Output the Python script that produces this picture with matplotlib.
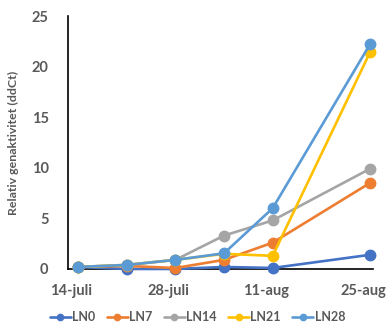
import matplotlib
matplotlib.use("Agg")
import matplotlib.pyplot as plt

# Data
days = [0, 7, 14, 21, 28, 42]  # days after 14-juli
tick_days = [0, 14, 28, 42]
tick_labels = ["14-juli", "28-juli", "11-aug", "25-aug"]
series_names = ["LN0", "LN7", "LN14", "LN21", "LN28"]
LN0 = [0.2, 0.0, 0.0, 0.2, 0.1, 1.4]
LN7 = [0.2, 0.3, 0.1, 0.9, 2.6, 8.5]
LN14 = [0.2, 0.4, 0.9, 3.3, 4.8, 9.9]
LN21 = [0.2, 0.4, 0.9, 1.5, 1.3, 21.4]
LN28 = [0.2, 0.4, 0.9, 1.55, 6.0, 22.2]
values = [LN0, LN7, LN14, LN21, LN28]
colors = ["#4472C4", "#ED7D31", "#A5A5A5", "#FFC000", "#5B9BD5"]

plt.rcParams['font.family'] = ['Lato', 'DejaVu Sans']
txt = "#595959"

fig = plt.figure(figsize=(3.87, 3.27), dpi=100)
ax = fig.add_axes([0.1757, 0.1774, 0.964 - 0.1757, 0.951 - 0.1774])

for name, vals, c in zip(series_names, values, colors):
    ax.plot(days, vals, color=c, lw=1.9, marker='o', markersize=7.5,
            label=name, solid_capstyle='round', clip_on=False, zorder=3)

ax.set_xlim(-1.45, 42.45)
ax.set_ylim(0, 25)
ax.set_yticks([0, 5, 10, 15, 20, 25])
ax.set_xticks([d - 1 for d in tick_days])
ax.set_xticklabels(tick_labels)
ax.tick_params(length=0, colors=txt, labelsize=10.5)
ax.tick_params(axis='x', pad=11)
ax.tick_params(axis='y', pad=14)
for lab in ax.get_xticklabels() + ax.get_yticklabels():
    lab.set_fontweight('bold')
    lab.set_color(txt)

for s in ['top', 'right']:
    ax.spines[s].set_visible(False)
ax.spines['left'].set_color('black')
ax.spines['left'].set_linewidth(1.2)
ax.spines['bottom'].set_color('black')
ax.spines['bottom'].set_linewidth(1.2)
ax.spines['bottom'].set_zorder(2)

ax.set_ylabel("Relativ genaktivitet (ddCt)", fontsize=8.9, fontweight='bold',
              color=txt, labelpad=9)

leg = fig.legend(loc='center', bbox_to_anchor=(0.51, (327 - 317) / 327), ncol=5,
                 frameon=False, fontsize=9, handlelength=1.7,
                 columnspacing=0.9, handletextpad=0.1, markerscale=0.6,
                 borderpad=0)
for t in leg.get_texts():
    t.set_fontweight('bold')
    t.set_color(txt)

fig.savefig("out.png", dpi=100)
